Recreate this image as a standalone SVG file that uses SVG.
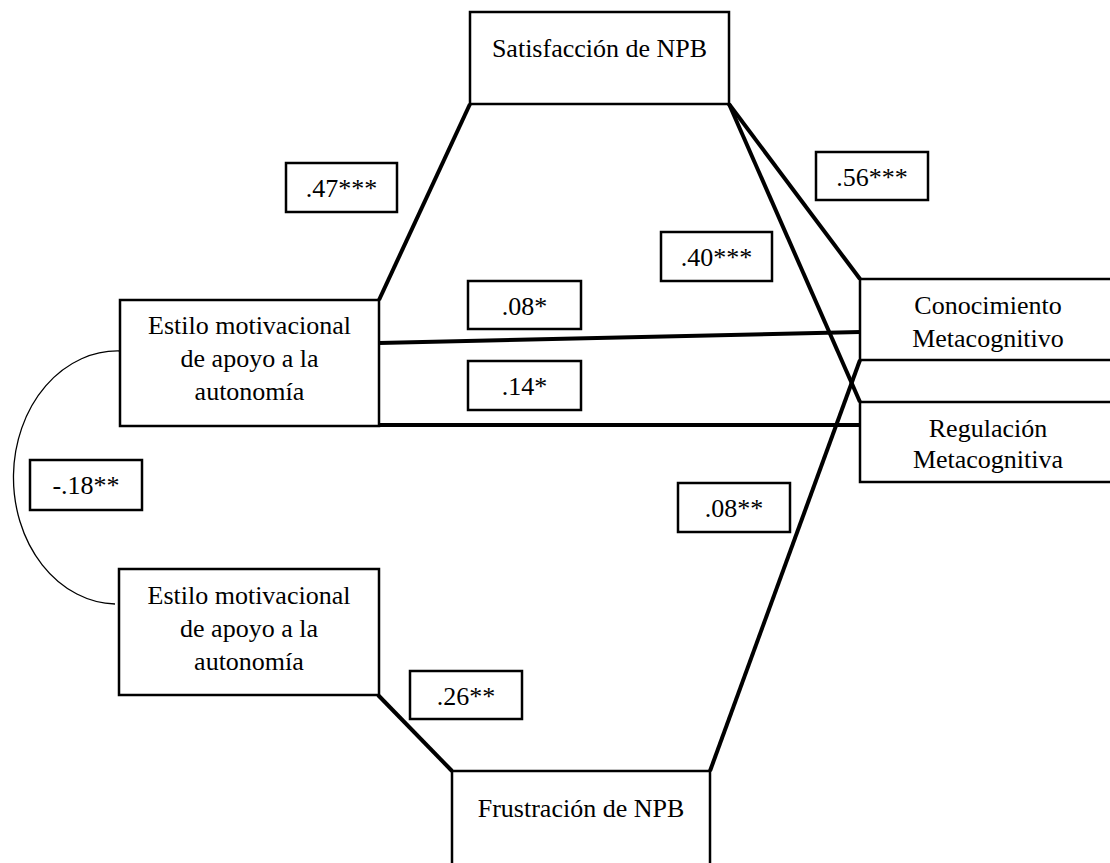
<svg xmlns="http://www.w3.org/2000/svg" width="1110" height="863" viewBox="0 0 1110 863">
<style>
.box{fill:#fff;stroke:#000;stroke-width:2.5}
.lab{fill:#fff;stroke:#000;stroke-width:2.5}
.t{font-family:"Liberation Serif","Times New Roman",serif;font-size:26px;fill:#000;text-anchor:middle}
.c{fill:none;stroke:#000;stroke-width:4;stroke-linecap:butt}
.cov{fill:none;stroke:#000;stroke-width:1.3}
</style>
<rect width="1110" height="863" fill="#fff"/>
<g id="connectors">
<line class="c" x1="470" y1="104" x2="379" y2="300"/>
<line class="c" x1="729" y1="104" x2="860" y2="279"/>
<line class="c" x1="729" y1="104" x2="860" y2="402"/>
<line class="c" x1="379" y1="343" x2="860" y2="332"/>
<line class="c" x1="379" y1="425" x2="860" y2="425"/>
<line class="c" x1="378" y1="695" x2="452" y2="771"/>
<line class="c" x1="710" y1="771" x2="860" y2="360"/>
<path class="cov" d="M120,351 A104,126.5 0 0 0 115,604"/>
</g>
<g id="satisfaccion">
<rect class="box" x="470" y="12" width="259" height="92"/>
<text class="t" x="599.5" y="57">Satisfacción de NPB</text>
</g>
<g id="estilo1">
<rect class="box" x="120" y="300" width="259" height="126"/>
<text class="t" x="249.5" y="334">Estilo motivacional</text>
<text class="t" x="249.5" y="367">de apoyo a la</text>
<text class="t" x="249.5" y="400">autonomía</text>
</g>
<g id="estilo2">
<rect class="box" x="119" y="569" width="260" height="126"/>
<text class="t" x="249" y="604">Estilo motivacional</text>
<text class="t" x="249" y="637">de apoyo a la</text>
<text class="t" x="249" y="670">autonomía</text>
</g>
<g id="frustracion">
<rect class="box" x="452" y="771" width="258" height="100"/>
<text class="t" x="581" y="817">Frustración de NPB</text>
</g>
<g id="conocimiento">
<rect class="box" x="860" y="279" width="256" height="81"/>
<text class="t" x="988" y="314">Conocimiento</text>
<text class="t" x="988" y="347">Metacognitivo</text>
</g>
<g id="regulacion">
<rect class="box" x="860" y="402" width="256" height="80"/>
<text class="t" x="988" y="437">Regulación</text>
<text class="t" x="988" y="468">Metacognitiva</text>
</g>
<g id="labels">
<g id="l47"><rect class="lab" x="286" y="163" width="111" height="49"/><text class="t" x="341.5" y="197">.47***</text></g>
<g id="l56"><rect class="lab" x="816" y="152" width="112" height="48"/><text class="t" x="872" y="186">.56***</text></g>
<g id="l40"><rect class="lab" x="661" y="232" width="111" height="49"/><text class="t" x="716.5" y="266">.40***</text></g>
<g id="l08a"><rect class="lab" x="468" y="281" width="113" height="48"/><text class="t" x="524.5" y="315">.08*</text></g>
<g id="l14"><rect class="lab" x="468" y="361" width="113" height="49"/><text class="t" x="524.5" y="395">.14*</text></g>
<g id="l18"><rect class="lab" x="30" y="460" width="112" height="50"/><text class="t" x="86" y="494">-.18**</text></g>
<g id="l08b"><rect class="lab" x="678" y="483" width="112" height="49"/><text class="t" x="734" y="517">.08**</text></g>
<g id="l26"><rect class="lab" x="410" y="671" width="112" height="48"/><text class="t" x="466" y="705">.26**</text></g>
</g>
</svg>
